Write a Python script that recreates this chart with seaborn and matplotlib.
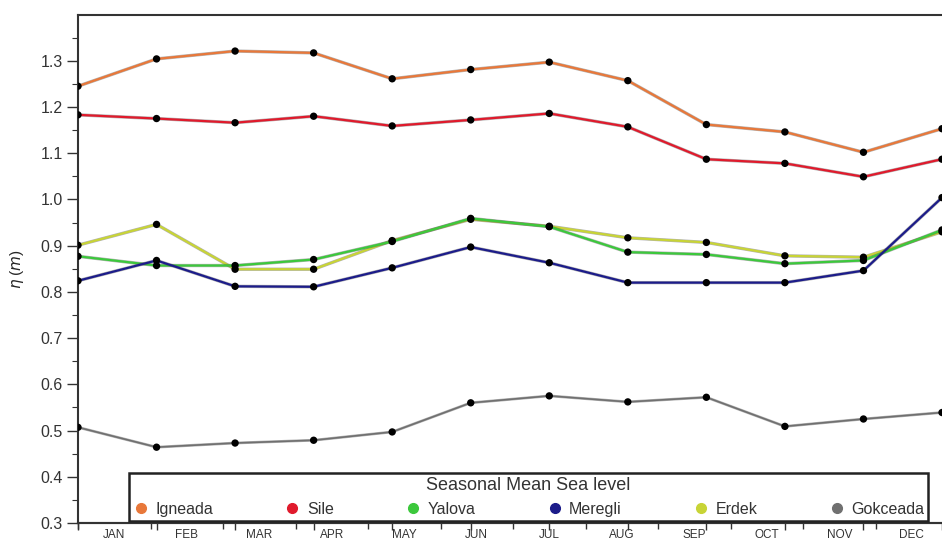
import pandas as pd
import matplotlib.pyplot as plt
import matplotlib.patheffects as pe
from matplotlib.lines import Line2D
from matplotlib.ticker import MultipleLocator, FixedLocator
import seaborn as sns

# Monthly mean sea level (m) per station
months = ['JAN', 'FEB', 'MAR', 'APR', 'MAY', 'JUN', 'JUL', 'AUG', 'SEP', 'OCT', 'NOV', 'DEC']
igneada = [1.245, 1.304, 1.321, 1.317, 1.261, 1.281, 1.297, 1.257, 1.162, 1.146, 1.102, 1.153]
sile = [1.183, 1.175, 1.166, 1.180, 1.159, 1.172, 1.186, 1.157, 1.087, 1.078, 1.049, 1.087]
yalova = [0.877, 0.857, 0.857, 0.870, 0.909, 0.959, 0.941, 0.886, 0.881, 0.861, 0.868, 0.934]
meregli = [0.824, 0.868, 0.812, 0.811, 0.852, 0.897, 0.863, 0.820, 0.820, 0.820, 0.846, 1.004]
erdek = [0.901, 0.946, 0.849, 0.849, 0.911, 0.957, 0.942, 0.917, 0.907, 0.878, 0.875, 0.930]
gokceada = [0.507, 0.464, 0.473, 0.479, 0.497, 0.560, 0.575, 0.562, 0.572, 0.509, 0.525, 0.539]

stations = ['Igneada', 'Sile', 'Yalova', 'Meregli', 'Erdek', 'Gokceada']
colors = {'Igneada': '#e8783a', 'Sile': '#e01a2c', 'Yalova': '#3cc83c',
          'Meregli': '#1c1c8a', 'Erdek': '#c8d436', 'Gokceada': '#707070'}
draw_order = ['Igneada', 'Sile', 'Erdek', 'Yalova', 'Meregli', 'Gokceada']

series = {'Igneada': igneada, 'Sile': sile, 'Yalova': yalova,
          'Meregli': meregli, 'Erdek': erdek, 'Gokceada': gokceada}
rows = []
for name, vals in series.items():
    for i, v in enumerate(vals):
        rows.append({'month': i, 'eta': v, 'station': name})
df = pd.DataFrame(rows)

sns.set_style('white')
plt.rcParams['font.family'] = ['Liberation Sans', 'DejaVu Sans']
plt.rcParams['text.color'] = '#333333'
plt.rcParams['xtick.color'] = '#333333'
plt.rcParams['ytick.color'] = '#333333'

fig = plt.figure(figsize=(9.42, 5.43), dpi=100)
ax = fig.add_axes([78 / 942, 20 / 543, 1 - 78 / 942, 508 / 543])

sns.lineplot(data=df, x='month', y='eta', hue='station', hue_order=draw_order,
             palette=colors, linewidth=1.6, legend=False, ax=ax, sort=False)
for ln in ax.get_lines():
    if ln.get_color() == colors['Gokceada']:
        ln.set_linewidth(1.2)
    ln.set_path_effects([pe.Stroke(linewidth=ln.get_linewidth() + 0.8, foreground='#444444', alpha=0.4),
                         pe.Normal()])
sns.scatterplot(data=df, x='month', y='eta', color='black', s=28, edgecolor='none',
                legend=False, ax=ax, zorder=4)

ax.set_xlim(0, 864 / 79)
ax.set_ylim(0.3, 1.399)
ax.yaxis.set_major_locator(MultipleLocator(0.1))
ax.yaxis.set_minor_locator(MultipleLocator(0.05))
ax.yaxis.set_major_formatter(plt.FormatStrFormatter('%.1f'))
ax.tick_params(axis='y', which='major', direction='out', length=8, width=1, labelsize=11.5, pad=3, left=True)
ax.tick_params(axis='y', which='minor', direction='out', length=4, width=0.8, left=True)
ax.set_ylabel(r'$\eta$ ($\mathit{m}$)', fontsize=11)
ax.yaxis.set_label_coords(-52 / 864, 0.5)

# month ticks on top, no labels
ax.xaxis.tick_top()
ax.set_xticks(range(len(months)))
ax.tick_params(axis='x', which='major', direction='out', length=5, width=1, labeltop=False, top=True)
ax.set_xlabel('')
for s in ['left', 'top', 'bottom']:
    ax.spines[s].set_color('#333333')
    ax.spines[s].set_linewidth(1.5)
ax.spines['right'].set_visible(False)

# bottom axis with month names
ax2 = ax.twiny()
ax2.set_xlim(0, 864 / 72.5)
ax2.xaxis.set_ticks_position('bottom')
ax2.xaxis.set_label_position('bottom')
ax2.xaxis.set_major_locator(FixedLocator(range(len(months))))
ax2.xaxis.set_minor_locator(FixedLocator([i + 0.5 for i in range(len(months))]))
ax2.xaxis.set_major_formatter(plt.NullFormatter())
ax2.set_xticklabels(months, minor=True)
ax2.tick_params(axis='x', which='major', direction='out', length=4, width=1)
ax2.tick_params(axis='x', which='minor', length=0, labelsize=8.5, pad=4)
for s in ['left', 'top', 'right']:
    ax2.spines[s].set_visible(False)
ax2.spines['bottom'].set_color('#333333')
ax2.spines['bottom'].set_linewidth(1.5)

handles = [Line2D([], [], marker='o', linestyle='', color=colors[s], markersize=7) for s in stations]
leg = fig.legend(handles, stations, title='Seasonal Mean Sea level', ncol=6,
                 loc='lower left', bbox_to_anchor=(129 / 942, 22 / 543, 799 / 942, 52 / 543),
                 mode='expand', fontsize=11.5, title_fontsize=13, frameon=True, fancybox=False,
                 edgecolor='#222222', framealpha=1, borderpad=0.25, handletextpad=0.4,
                 handlelength=1.0, borderaxespad=0)
leg.get_frame().set_linewidth(1.8)

fig.savefig('out.png', dpi=100)
